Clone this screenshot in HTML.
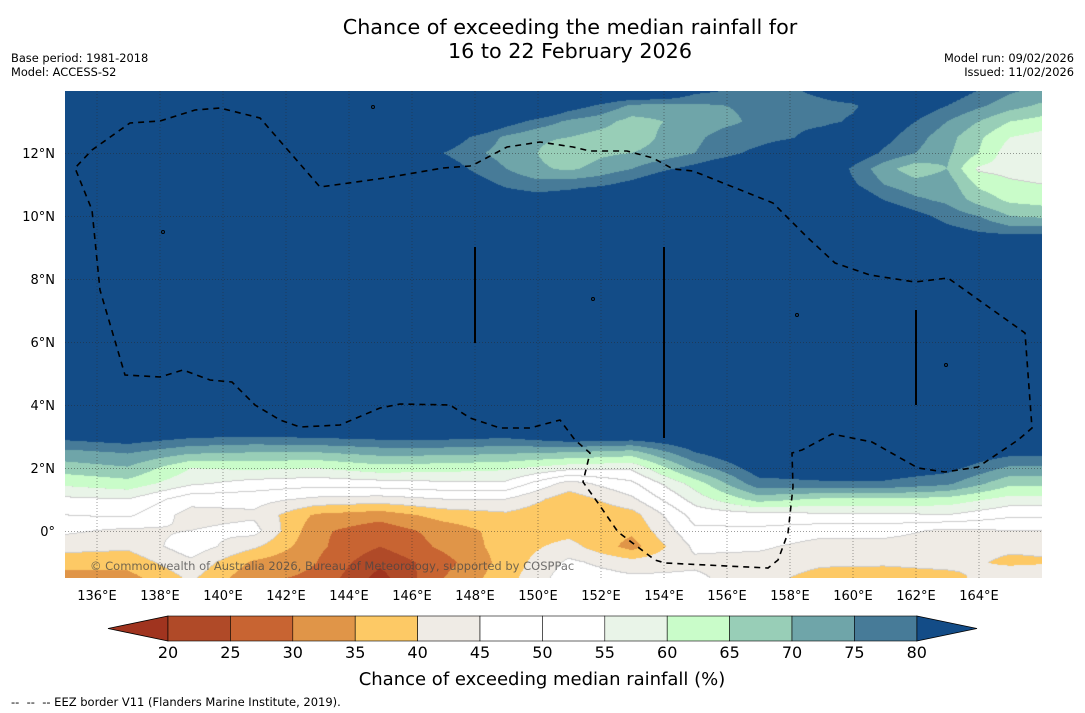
<!DOCTYPE html>
<html><head><meta charset="utf-8">
<style>
html,body{margin:0;padding:0;background:#fff;}
body{width:1085px;height:713px;position:relative;overflow:hidden;font-family:"DejaVu Sans","Liberation Sans",sans-serif;color:#000;}
.t{position:absolute;white-space:pre;}
#map{position:absolute;left:65px;top:91px;}
#ov{position:absolute;left:0;top:0;}
</style></head><body>
<div class="t" style="left:0;width:1140px;text-align:center;top:15px;font-size:20.7px;line-height:24px;">Chance of exceeding the median rainfall for
16 to 22 February 2026</div>
<div class="t" style="left:11px;top:51px;font-size:11.4px;line-height:14px;">Base period: 1981-2018
Model: ACCESS-S2</div>
<div class="t" style="right:11px;top:51px;font-size:11.4px;line-height:14px;text-align:right;">Model run: 09/02/2026
Issued: 11/02/2026</div>
<canvas id="map" width="977" height="487"></canvas>
<svg id="ov" width="1085" height="713"></svg>
<div class="t" style="left:11px;top:695px;font-size:11.5px;">--  --  -- EEZ border V11 (Flanders Marine Institute, 2019).</div>
<script>
// ---------- data ----------
const northLats = [14,13.5,13,12.5,12,11.5,11,10.5,10,9.5,9,4];
const northLons = [135,136,137,138,139,140,141,142,143,144,145,146,147,148,149,150,151,152,153,154,155,156,157,158,159,160,161,162,163,164,165,166];
const northRow14  = [90,90,90,90,90,90,90,90,90,90,90,90,90,90,90,90,90,90,90,90,82,80,78,79,82,86,90,88,84,80,76,74];
const northRow135 = [90,90,90,90,90,90,90,90,90,90,90,90,90,90,90,90,83,79,74,73,74,75,76,77,78,79,84,84,80,76,72,69];
const northRow13  = [90,90,90,90,90,90,90,90,90,90,90,90,90,90,83,78,74,72,68,70,72,74,76,78,78,81,84,80,75,70,65,63];
const northRow125 = [90,90,90,90,90,90,90,90,90,90,90,90,85,79,74,71,70,68,67,71,74,77,77,79,84,88,82,77,72,66,60,58];
const northRow12  = [90,90,90,90,90,90,90,90,90,90,90,90,80,76,73,70,66,69,70,72,75,78,82,88,90,85,79,75,71,65,57,56];
const northRow115 = [90,90,90,90,90,90,90,90,90,90,90,90,84,79,75,71,69,72,75,79,82,86,90,90,88,79,72,67,70,59,58,57];
const northRow11  = [90,90,90,90,90,90,90,90,90,90,90,90,90,83,79,77,78,79,82,86,90,90,90,90,86,81,75,72,73,64,61,60];
const northRow105 = [90,90,90,90,90,90,90,90,90,90,90,90,90,90,84,83,84,88,90,90,90,90,90,90,90,86,80,76,74,68,64,63];
const northRow10  = [90,90,90,90,90,90,90,90,90,90,90,90,90,90,90,90,90,90,90,90,90,90,90,90,90,90,86,82,78,75,70,69];
const northRow95  = [90,90,90,90,90,90,90,90,90,90,90,90,90,90,90,90,90,90,90,90,90,90,90,90,90,90,90,86,82,80,78,78];
const northRow9   = [90,90,90,90,90,90,90,90,90,90,90,90,90,90,90,90,90,90,90,90,90,90,90,90,90,90,90,90,90,90,90,90];
const northRow4   = [90,90,90,90,90,90,90,90,90,90,90,90,90,90,90,90,90,90,90,90,90,90,90,90,90,90,90,90,90,90,90,90];

const southLats = [4,3.5,3,2.5,2,1.5,1,0.5,0,-0.5,-1,-1.5];
const southLons = [135,137,139,141,143,145,147,149,151,153,155,157,159,161,163,165,167];
const southRow4   = [90,90,90,90,90,90,90,90,90,90,90,90,90,90,90,90,90];
const southRow35  = [88,90,88,90,90,91,91,90,90,90,90,92,92,92,91,91,91];
const southRow3   = [82,84,81,80,81,82,82,81,85,84,86,90,91,91,89,86,86];
const southRow25  = [73.5,75.5,71,70,70,72,72,71,70,68,80,87,88,88,86,82,82];
const southRow2   = [67.5,69.5,60,61,60,63,62,61,57,56,72,83,84,84,82,74,74];
const southRow15  = [61,63,56,53,52,53,54,54,43,49,62,78,79,79,76,66,66];
const southRow1   = [54,55,47,47,44,43,45,45,37,44,57,67,64,64,63,58,58];
const southRow05  = [50,51,43,44,34,32,37,39,35,38,52,53,54,54,55,51,51];
const southRow0   = [46,44,45,47,31,27,32,37,38,36,49,49,47,47,44,45,45];
const southRowM05 = [42,41,48,41,31,25,31,37,42,33,46,46,43,43,42,41,41];
const southRowM1  = [37,37,44,34,30,21,28,37,46,42,44,43,41,41,42,39,40];
const southRowM15 = [33,33,41,31,29,18,30,38,48,46,46,42,38,37,38,44,44];

const levels = [20,25,30,35,40,45,50,55,60,65,70,75,80];
const levelColors = ["#a0341f","#b04a28","#c86432","#e09548","#fdc965","#efebe5","#ffffff","#ffffff","#e9f4e8","#c9fcc9","#98ceb7","#6fa5a9","#477b98","#134c87"];
const lonTicks = [136,138,140,142,144,146,148,150,152,154,156,158,160,162,164];
const latTicks = [0,2,4,6,8,10,12];

const northGrid=[northRow14,northRow135,northRow13,northRow125,northRow12,northRow115,northRow11,northRow105,northRow10,northRow95,northRow9,northRow4];
const southGrid=[southRow4,southRow35,southRow3,southRow25,southRow2,southRow15,southRow1,southRow05,southRow0,southRowM05,southRowM1,southRowM15];

// ---------- axes ----------
const X0=65,Y0=91,W=977,H=487,PX=31.5;
function xOf(lon){return X0+(lon-135)*PX+0.5;}
function yOf(lat){return 531-lat*PX;}
function lonOfPx(px){return 135+(px+0.5)/PX;}
function latOfPy(py){return (531-(Y0+py+0.5))/PX;}

function bil(lats,lons,grid,lat,lon){
  let i=0;while(i<lats.length-2&&lat<lats[i+1])i++;
  let j=0;while(j<lons.length-2&&lon>lons[j+1])j++;
  let ty=(lats[i]-lat)/(lats[i]-lats[i+1]);ty=Math.max(0,Math.min(1,ty));
  let tx=(lon-lons[j])/(lons[j+1]-lons[j]);tx=Math.max(0,Math.min(1,tx));
  const a=grid[i][j],b=grid[i][j+1],c=grid[i+1][j],d=grid[i+1][j+1];
  return (a*(1-tx)+b*tx)*(1-ty)+(c*(1-tx)+d*tx)*ty;
}
function field(lat,lon){return lat>=4?bil(northLats,northLons,northGrid,lat,lon):bil(southLats,southLons,southGrid,lat,lon);}
function levelIdx(v){let k=0;while(k<levels.length&&v>=levels[k])k++;return k;}
function hex(c){return [parseInt(c.substr(1,2),16),parseInt(c.substr(3,2),16),parseInt(c.substr(5,2),16)];}

const cv=document.getElementById('map'),ctx=cv.getContext('2d');
const img=ctx.createImageData(W,H);const rgb=levelColors.map(hex);
const idx=new Uint8Array(W*H);const fine=new Uint8Array(W*H);
for(let y=0;y<H;y++){const lat=latOfPy(y);for(let x=0;x<W;x++){const v=field(lat,lonOfPx(x));idx[y*W+x]=levelIdx(v);fine[y*W+x]=Math.floor(v/5);}}
for(let y=0;y<H;y++)for(let x=0;x<W;x++){
  const p=y*W+x;let c=rgb[idx[p]];
  const f=fine[p];
  if(f>=8&&f<=11&&((x<W-1&&fine[p+1]!==f)||(y<H-1&&fine[p+W]!==f))){c=[205,205,205];}
  img.data[p*4]=c[0];img.data[p*4+1]=c[1];img.data[p*4+2]=c[2];img.data[p*4+3]=255;
}
ctx.putImageData(img,0,0);

// ---------- overlay ----------
const NS='http://www.w3.org/2000/svg';const svg=document.getElementById('ov');
function mk(tag,attrs,parent){const e=document.createElementNS(NS,tag);for(const k in attrs)e.setAttribute(k,attrs[k]);(parent||svg).appendChild(e);return e;}
lonTicks.forEach(l=>{
  const g=mk('line',{x1:xOf(l),x2:xOf(l),y1:Y0,y2:Y0+H,stroke:'rgba(40,40,40,0.45)','stroke-width':1,'stroke-dasharray':'1,2'});
  
  
  const t=mk('text',{x:xOf(l),y:600,'text-anchor':'middle','font-size':13});t.textContent=l+'°E';
  
  
});
latTicks.forEach(l=>{
  const g=mk('line',{x1:X0,x2:X0+W,y1:yOf(l)+0.5,y2:yOf(l)+0.5,stroke:'rgba(40,40,40,0.45)','stroke-width':1,'stroke-dasharray':'1,2'});
  
  
  const t=mk('text',{x:55,y:yOf(l)+5,'text-anchor':'end','font-size':13});t.textContent=l===0?'0°':l+'°N';
  
  
});
// EEZ border
const eez=[[443,168],[470,166],[477,163],[507,147],[540,142],[573,147],[590,151],[627,151],[653,158],[673,169],[693,171],[723,183],[773,203],[788,218],[807,237],[835,263],[870,275],[915,282],[948,278],[1025,333],[1032,428],[1018,440],[978,467],[945,472],[918,468],[872,442],[832,434],[802,450],[792,453],[793,487],[788,533],[778,560],[768,568],[665,563],[655,560],[618,532],[598,503],[583,482],[590,453],[575,440],[560,420],[530,428],[500,428],[470,418],[450,405],[400,404],[380,408],[340,425],[300,427],[280,420],[255,405],[232,382],[210,380],[183,370],[160,377],[125,375],[100,290],[92,210],[75,168],[92,150],[130,123],[160,121],[195,110],[220,108],[260,118],[320,187],[385,178],[443,168]];
const pe=mk('polyline',{points:eez.map(p=>p.join(',')).join(' '),fill:'none',stroke:'#000','stroke-width':1.6,'stroke-dasharray':'6,5'});


[[475,247,343],[664,247,438],[916,310,405]].forEach(a=>{
  const l=mk('line',{x1:a[0],x2:a[0],y1:a[1],y2:a[2],stroke:'#000','stroke-width':2});
  
  
});
[[373,107],[797,315],[163,232],[593,299],[946,365]].forEach(p=>{
  const c=mk('circle',{cx:p[0],cy:p[1],r:1.5,fill:'none',stroke:'#000','stroke-width':1});
  
  
});
const cp=mk('text',{x:90,y:570,'font-size':11.5,fill:'rgba(70,70,70,0.75)'});cp.textContent='© Commonwealth of Australia 2026, Bureau of Meteorology, supported by COSPPac';



// colorbar
const CB0=168,CBW=62.4,CBY=616,CBH=25;
const tl=mk('polygon',{points:`${CB0},${CBY} ${CB0},${CBY+CBH} 108,${CBY+CBH/2}`,fill:levelColors[0],stroke:'#000','stroke-width':0.8});


const tr=mk('polygon',{points:`${CB0+12*CBW},${CBY} ${CB0+12*CBW},${CBY+CBH} 977,${CBY+CBH/2}`,fill:levelColors[13],stroke:'#000','stroke-width':0.8});


for(let i=0;i<12;i++){
  const r=mk('rect',{x:CB0+i*CBW,y:CBY,width:CBW,height:CBH,fill:levelColors[i+1],stroke:'#000','stroke-width':0.6});
  
  
}
levels.forEach((l,i)=>{
  const t=mk('text',{x:CB0+i*CBW,y:658,'text-anchor':'middle','font-size':16});t.textContent=l;
  
  
});
const ct=mk('text',{x:542,y:685,'text-anchor':'middle','font-size':18});ct.textContent='Chance of exceeding median rainfall (%)';


</script>
</body></html>
